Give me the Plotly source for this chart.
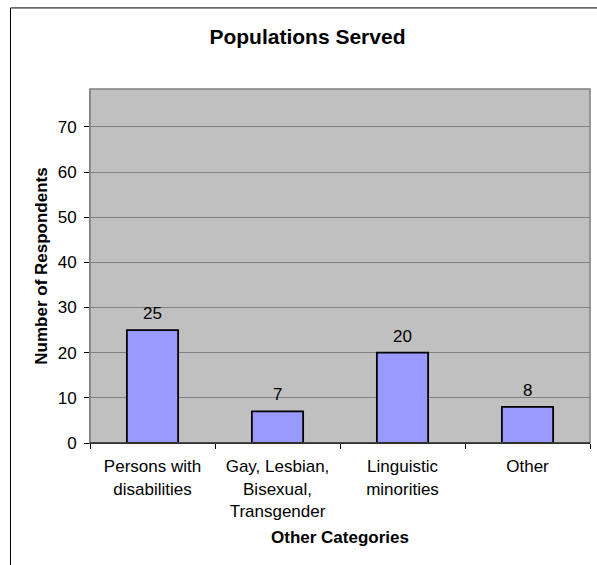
import plotly.graph_objects as go

categories = ["Persons with<br>disabilities", "Gay, Lesbian,<br>Bisexual,<br>Transgender",
              "Linguistic<br>minorities", "Other"]
respondents = [25, 7, 20, 8]
y_ticks = [0, 10, 20, 30, 40, 50, 60, 70]

FONT = "Liberation Sans, Arial, sans-serif"

fig = go.Figure(
    go.Bar(
        x=categories,
        y=respondents,
        marker=dict(color="#9999FF", line=dict(color="black", width=1.8)),
        width=0.41,
    )
)

# value labels above each bar
for cat, val in zip(categories, respondents):
    fig.add_annotation(
        x=cat, y=val, xref="x", yref="y",
        text=str(val), showarrow=False,
        yanchor="bottom", yshift=5,
        font=dict(family=FONT, size=17, color="black"),
    )

fig.update_layout(
    width=597,
    height=565,
    margin=dict(l=90, r=7, t=89, b=122),
    paper_bgcolor="white",
    plot_bgcolor="#C0C0C0",
    showlegend=False,
    title=dict(
        text="<b>Populations Served</b>",
        x=0.515, xanchor="center",
        y=0.936, yanchor="middle",
        font=dict(family=FONT, size=21, color="black"),
    ),
    font=dict(family=FONT, size=17, color="black"),
)

fig.update_xaxes(
    title=dict(text="<b>Other Categories</b>", font=dict(family=FONT, size=17), standoff=11),
    tickson="boundaries",
    ticks="outside", ticklen=5, tickcolor="black",
    ticklabelstandoff=8,
    showline=True, linecolor="black", linewidth=1,
    tickfont=dict(family=FONT, size=17),
    showgrid=False,
)

fig.update_yaxes(
    title=dict(text="<b>Number of Respondents</b>", font=dict(family=FONT, size=17), standoff=5),
    range=[0, 78.4],
    tickvals=y_ticks,
    ticks="outside", ticklen=5, tickcolor="black",
    ticklabelstandoff=4,
    showline=True, linecolor="#808080", linewidth=1,
    showgrid=True, gridcolor="#808080", gridwidth=1,
    zeroline=False,
    tickfont=dict(family=FONT, size=17),
)

# plot-area frame and the chart's outer border
fig.add_shape(type="rect", xref="paper", yref="paper", x0=0, y0=0, x1=1, y1=1,
              line=dict(color="#808080", width=1.5), fillcolor="rgba(0,0,0,0)", layer="above")
fig.add_shape(type="line", xref="paper", yref="paper", x0=0, y0=0, x1=1, y1=0,
              line=dict(color="black", width=1), layer="above")
fig.add_shape(type="rect", xref="paper", yref="paper", x0=-0.159, y0=-0.6, x1=1.2, y1=1.229,
              line=dict(color="black", width=1), fillcolor="rgba(0,0,0,0)", layer="above")

fig.write_html("out.html")
